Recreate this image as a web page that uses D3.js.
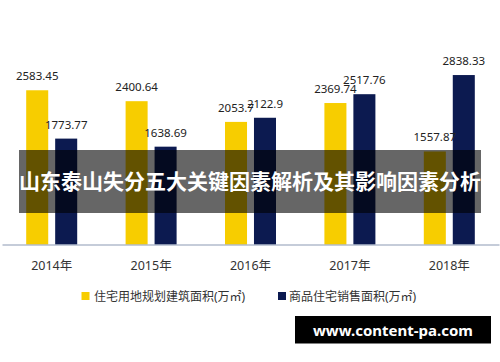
<!DOCTYPE html>
<html>
<head>
<meta charset="utf-8">
<script src="https://cdn.jsdelivr.net/npm/d3@7"></script>
<style>
  body { margin: 0; background: #fff; }
  svg { display: block; font-family: "Noto Sans", "Noto Sans CJK SC", sans-serif; }
</style>
</head>
<body>
<svg id="chart" width="500" height="362"></svg>
<script>
var years = ["2014年", "2015年", "2016年", "2017年", "2018年"];
var seriesNames = ["住宅用地规划建筑面积(万㎡)", "商品住宅销售面积(万㎡)"];
var landArea = [2583.45, 2400.64, 2053.7, 2369.74, 1557.87];
var salesArea = [1773.77, 1638.69, 2122.9, 2517.76, 2838.33];
var labelText = [
  ["2583.45", "2400.64", "2053.7", "2369.74", "1557.87"],
  ["1773.77", "1638.69", "2122.9", "2517.76", "2838.33"]
];
var colors = ["#f7cd00", "#0c1a50"];
var title = "山东泰山失分五大关键因素解析及其影响因素分析";
var watermark = "www.content-pa.com";

var svg = d3.select("#chart");
var baseY = 244.5;

var x = d3.scaleBand().domain(years).range([2, 499]);
var x1 = d3.scaleBand().domain([0, 1]).range([x.bandwidth() / 2 - 25.5, x.bandwidth() / 2 + 25.5]).paddingInner(0.24);
var y = d3.scaleLinear().domain([0, 3000]).range([baseY, baseY - 3000 * 0.0597]);

var series = [landArea, salesArea];

// bars
series.forEach(function (vals, s) {
  svg.append("g").selectAll("rect")
    .data(vals)
    .join("rect")
    .attr("x", (d, i) => x(years[i]) + x1(s))
    .attr("y", d => y(d))
    .attr("width", x1.bandwidth())
    .attr("height", d => baseY - y(d))
    .attr("fill", colors[s]);
});

// value labels
series.forEach(function (vals, s) {
  svg.append("g").selectAll("text")
    .data(vals)
    .join("text")
    .attr("x", (d, i) => x(years[i]) + x1(s) + x1.bandwidth() / 2)
    .attr("y", d => y(d) - 10)
    .attr("text-anchor", "middle")
    .attr("font-size", "11.5px")
    .attr("fill", "#222")
    .text((d, i) => labelText[s][i]);
});

// x axis
var xAxis = svg.append("g")
  .attr("transform", "translate(0," + baseY + ")")
  .call(d3.axisBottom(x).tickSize(0).tickPadding(16.5));
xAxis.select(".domain").attr("stroke", "#8c9ab3").attr("stroke-width", 1.2);
xAxis.selectAll("text")
  .attr("font-size", "12.5px")
  .attr("fill", "#333")
  .attr("font-family", "\"Noto Sans\", \"Noto Sans CJK SC\", sans-serif");

// legend
var legendPos = [[81.5, 94], [278, 289]];
seriesNames.forEach(function (name, s) {
  svg.append("rect")
    .attr("x", legendPos[s][0]).attr("y", 292)
    .attr("width", 8).attr("height", 8)
    .attr("fill", colors[s]);
  svg.append("text")
    .attr("x", legendPos[s][1]).attr("y", 300.5)
    .attr("font-size", "12px")
    .attr("fill", "#333")
    .text(name);
});

// title banner
svg.append("rect")
  .attr("x", 19).attr("y", 150)
  .attr("width", 462).attr("height", 63)
  .attr("fill", "rgba(0,0,0,0.6)");
svg.append("text")
  .attr("x", 250).attr("y", 189)
  .attr("text-anchor", "middle")
  .attr("font-size", "21px")
  .attr("font-weight", "bold")
  .attr("fill", "#fff")
  .attr("font-family", "\"Noto Sans CJK SC\", sans-serif")
  .text(title);

// watermark
svg.append("rect")
  .attr("x", 295).attr("y", 316)
  .attr("width", 196).attr("height", 27.5)
  .attr("fill", "#000");
svg.append("text")
  .attr("x", 393).attr("y", 335.5)
  .attr("text-anchor", "middle")
  .attr("font-size", "15px")
  .attr("font-weight", "bold")
  .attr("fill", "#fff")
  .text(watermark);
</script>
</body>
</html>
